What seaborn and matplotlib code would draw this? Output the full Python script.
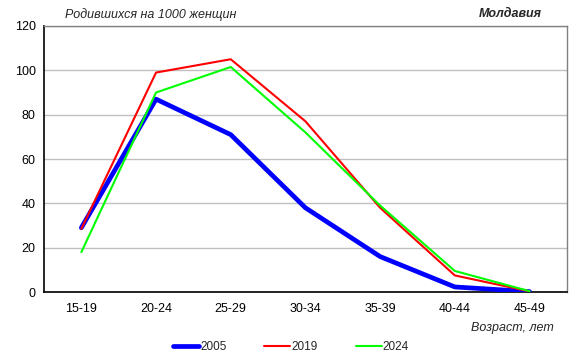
import pandas as pd
import seaborn as sns
import matplotlib.pyplot as plt

ages = ["15-19", "20-24", "25-29", "30-34", "35-39", "40-44", "45-49"]
rate_2005 = [29, 87, 71, 38, 16, 2.3, 0.2]
rate_2019 = [28.5, 99, 105, 77, 38, 7.5, 0.3]
rate_2024 = [18, 90, 101.5, 72, 39, 9.5, 0.4]

years = ["2005", "2019", "2024"]
colors = {"2005": "#0000ff", "2019": "#ff0000", "2024": "#00ff00"}
widths = {"2005": 3.4, "2019": 1.5, "2024": 1.5}

df = pd.DataFrame({
    "age": ages * 3,
    "rate": rate_2005 + rate_2019 + rate_2024,
    "year": [y for y in years for _ in ages],
})

sns.set_style("white")
plt.rcParams["font.family"] = ["Liberation Sans", "DejaVu Sans"]

fig = plt.figure(figsize=(5.82, 3.61), dpi=100)
ax = fig.add_axes([0.0756, 0.191, 0.8984, 0.737])

for y in years:
    sns.lineplot(data=df[df["year"] == y], x="age", y="rate", color=colors[y],
                 linewidth=widths[y], label=y, ax=ax, zorder=3)

ax.set_xlim(-0.5, 6.5)
ax.set_ylim(0, 120)
ax.set_yticks(range(0, 121, 20))
ax.yaxis.grid(True, color="#c0c0c0", linewidth=1)
ax.xaxis.grid(False)
ax.tick_params(axis="both", length=0, labelsize=9, colors="black")
ax.tick_params(axis="x", pad=8)
ax.tick_params(axis="y", pad=6)
ax.set_xlabel("")
ax.set_ylabel("")

for side in ["left", "bottom"]:
    ax.spines[side].set_color("black")
    ax.spines[side].set_linewidth(1.2)
for side in ["top", "right"]:
    ax.spines[side].set_color("#808080")
    ax.spines[side].set_linewidth(1)

fig.text(0.112, 0.96, "Родившихся на 1000 женщин", fontsize=9, style="italic",
         ha="left", va="center")
fig.text(0.876, 0.96, "Молдавия", fontsize=9, style="italic", fontweight="bold",
         ha="center", va="center")
fig.text(0.951, 0.092, "Возраст, лет", fontsize=9, style="italic",
         ha="right", va="center")

handles, labels = ax.get_legend_handles_labels()
ax.get_legend().remove()
fig.legend(handles, labels, loc="center", bbox_to_anchor=(0.5, 0.039), ncol=3,
           frameon=False, fontsize=8.5, handlelength=2.2, handletextpad=0.1,
           columnspacing=3.2)

fig.savefig("out.png", dpi=100)
